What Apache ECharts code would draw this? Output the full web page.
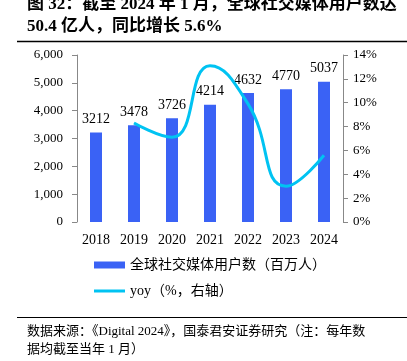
<!DOCTYPE html>
<html><head><meta charset="utf-8">
<script src="https://cdn.jsdelivr.net/npm/echarts@6/dist/echarts.min.js"></script>
<style>html,body{margin:0;padding:0;background:#fff}#c{width:407px;height:361px}</style>
</head><body><div id="c"></div>
<script>
const years = ['2018','2019','2020','2021','2022','2023','2024'];
const users = [3212, 3478, 3726, 4214, 4632, 4770, 5037];
const yoy = [null, 8.3, 7.1, 13.1, 9.9, 3.0, 5.6];
const leftTicks = [0, 6000, 1000];
const rightTicks = [0, 14, 2];
const serif = 'Liberation Serif, Times New Roman, serif';
const cjk = '"Liberation Serif", "Noto Sans CJK SC", serif';
const barName = '全球社交媒体用户数（百万人）';
const lineName = 'yoy（%，右轴）';
const chart = echarts.init(document.getElementById('c'));
chart.setOption({
  animation: false,
  grid: {left: 77, right: 64, top: 55, bottom: 139, containLabel: false},
  legend: [{
    left: 94, top: 258, padding: 0, itemWidth: 31, itemHeight: 7, itemGap: 0,
    textStyle: {fontFamily: cjk, fontSize: 14, color: '#000'},
    data: [{name: barName, icon: 'rect'}]
  }, {
    left: 94, top: 284, padding: 0, itemWidth: 31, itemHeight: 3, itemGap: 0,
    textStyle: {fontFamily: cjk, fontSize: 14, color: '#000'},
    data: [{name: lineName, icon: 'rect', itemStyle: {color: '#00C3F2'}}]
  }],
  xAxis: {
    type: 'category', data: years,
    axisLine: {show: false}, axisTick: {show: false},
    axisLabel: {fontFamily: serif, fontSize: 14, color: '#000', margin: 11}
  },
  yAxis: [{
    type: 'value', min: leftTicks[0], max: leftTicks[1], interval: leftTicks[2],
    axisLine: {show: true, lineStyle: {color: '#888'}},
    axisTick: {show: true, length: 5, lineStyle: {color: '#888'}},
    splitLine: {show: false},
    axisLabel: {fontFamily: serif, fontSize: 13, color: '#000', margin: 14,
      formatter: v => v.toLocaleString('en-US')}
  }, {
    type: 'value', min: rightTicks[0], max: rightTicks[1], interval: rightTicks[2],
    axisLine: {show: true, lineStyle: {color: '#888'}},
    axisTick: {show: true, length: 5, lineStyle: {color: '#888'}},
    splitLine: {show: false},
    axisLabel: {fontFamily: serif, fontSize: 13, color: '#000', margin: 10, formatter: '{value}%'}
  }],
  series: [{
    name: barName, type: 'bar', data: users, barWidth: 12,
    itemStyle: {color: '#3A62F5'},
    label: {show: true, position: 'top', distance: 6, fontFamily: serif, fontSize: 14, color: '#000'}
  }, {
    name: lineName, type: 'line', yAxisIndex: 1, data: yoy, smooth: 0.5,
    symbol: 'none', lineStyle: {color: '#00C3F2', width: 3}, itemStyle: {color: '#00C3F2'}
  }],
  graphic: [
    {type: 'text', left: 27, top: -4, style: {text: '图 32：截至 2024 年 1 月，全球社交媒体用户数达', font: 'bold 17px ' + cjk, fill: '#000'}},
    {type: 'text', left: 27, top: 18, style: {text: '50.4 亿人，同比增长 5.6%', font: 'bold 17px ' + cjk, fill: '#000'}},
    {type: 'line', shape: {x1: 17, y1: 41.5, x2: 407, y2: 41.5}, style: {stroke: '#000', lineWidth: 1.5}},
    {type: 'line', shape: {x1: 17, y1: 317.5, x2: 407, y2: 317.5}, style: {stroke: '#000', lineWidth: 1}},
    {type: 'text', left: 27, top: 325, style: {text: '数据来源：《Digital 2024》，国泰君安证券研究（注：每年数', font: '13px ' + cjk, fill: '#000'}},
    {type: 'text', left: 27, top: 343, style: {text: '据均截至当年 1 月）', font: '13px ' + cjk, fill: '#000'}}
  ]
});
</script></body></html>
